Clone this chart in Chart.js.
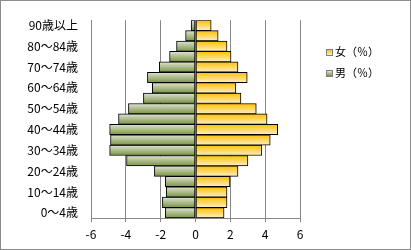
<!DOCTYPE html>
<html lang="ja">
<head>
<meta charset="utf-8">
<script src="https://cdn.jsdelivr.net/npm/chart.js@4/dist/chart.umd.min.js"></script>
<style>
    html, body { margin: 0; padding: 0; background: #fff; }
    #wrap { position: relative; width: 411px; height: 250px; }
    #frame {
        position: absolute; left: 0; top: 0; width: 411px; height: 250px;
        box-sizing: border-box; border: 1px solid #8c8c8c; pointer-events: none;
    }
    .legend { position: absolute; left: 326px; top: 43px; font-family: "Noto Sans CJK JP", sans-serif; font-size: 11px; color: #000; }
    .legend div { height: 21px; line-height: 16px; white-space: nowrap; }
    .legend span.box {
        display: inline-block; width: 5px; height: 5px; border: 1px solid #7f7f7f;
        margin-right: 2px; vertical-align: 0px;
    }
</style>
</head>
<body>
<div id="wrap">
    <canvas id="grafico" width="411" height="250"></canvas>
    <div class="legend">
        <div><span class="box" style="background: linear-gradient(#ffc000, #fcefc6);"></span>女（％）</div>
        <div><span class="box" style="background: linear-gradient(#dfe3d6, #7a9440);"></span>男（％）</div>
    </div>
    <div id="frame"></div>
</div>
<script>
const categorias = ["0〜4歳", "5〜9歳", "10〜14歳", "15〜19歳", "20〜24歳", "25〜29歳", "30〜34歳",
    "35〜39歳", "40〜44歳", "45〜49歳", "50〜54歳", "55〜59歳", "60〜64歳", "65〜69歳",
    "70〜74歳", "75〜79歳", "80〜84歳", "85〜89歳", "90歳以上"];

// 女（％）
const mulheres = [1.64, 1.81, 1.81, 1.98, 2.44, 3.01, 3.81, 4.29, 4.72, 4.11,
    3.49, 2.61, 2.32, 2.97, 2.44, 2.04, 1.81, 1.30, 0.90];

// 男（％） drawn to the left, so negative
const homens = [-1.73, -1.90, -1.68, -1.73, -2.36, -3.96, -4.93, -4.88, -4.93, -4.42,
    -3.85, -2.99, -2.48, -2.76, -2.08, -1.49, -1.09, -0.57, -0.25];

const ticksX = [-6, -4, -2, 0, 2, 4, 6];

const corEixo = "#868686";

function preenchimento(corTopo, corBase) {
    return (contexto) => {
        const chart = contexto.chart;
        if (contexto.type !== "data" || !chart.chartArea) return corBase;
        const escala = chart.scales.y;
        const centro = escala.getPixelForValue(contexto.dataIndex);
        const meio = escala.height / categorias.length / 2;
        const grad = chart.ctx.createLinearGradient(0, centro - meio, 0, centro + meio);
        grad.addColorStop(0, corTopo);
        grad.addColorStop(1, corBase);
        return grad;
    };
}

Chart.defaults.font.family = '"Noto Sans CJK JP", sans-serif';
Chart.defaults.font.size = 12;
Chart.defaults.color = "#000";

new Chart(document.getElementById("grafico"), {
    type: "bar",
    data: {
        labels: categorias,
        datasets: [
            {
                label: "女（％）",
                data: mulheres,
                backgroundColor: preenchimento("#ffc000", "#fcefc6"),
                borderColor: "#000",
                borderWidth: 1,
                borderSkipped: false,
                barPercentage: 1,
                categoryPercentage: 1
            },
            {
                label: "男（％）",
                data: homens,
                backgroundColor: preenchimento("#dfe3d6", "#7a9440"),
                borderColor: "#000",
                borderWidth: 1,
                borderSkipped: false,
                barPercentage: 1,
                categoryPercentage: 1
            }
        ]
    },
    options: {
        indexAxis: "y",
        responsive: false,
        animation: false,
        layout: { padding: { left: 0, right: 111, top: 12, bottom: 0 } },
        scales: {
            x: {
                stacked: true,
                min: -6,
                max: 6,
                afterBuildTicks: (escala) => {
                    escala.ticks = ticksX.map((v) => ({ value: v }));
                },
                afterFit: (escala) => { escala.height = 32; },
                ticks: { padding: 5, callback: (v) => String(v) },
                grid: { color: corEixo, tickLength: 4, drawTicks: true },
                border: { display: true, color: corEixo }
            },
            y: {
                stacked: true,
                reverse: true,
                afterFit: (escala) => { escala.width = 91; },
                ticks: {
                    autoSkip: false,
                    padding: 13,
                    callback: (v) => (v % 2 === 0 ? categorias[v] : "")
                },
                grid: { display: false, drawTicks: false },
                border: { display: true, color: corEixo }
            }
        },
        plugins: {
            legend: { display: false },
            tooltip: {
                callbacks: {
                    label: (c) => `${c.dataset.label}: ${Math.abs(c.raw)}`
                }
            }
        }
    }
});
</script>
</body>
</html>
